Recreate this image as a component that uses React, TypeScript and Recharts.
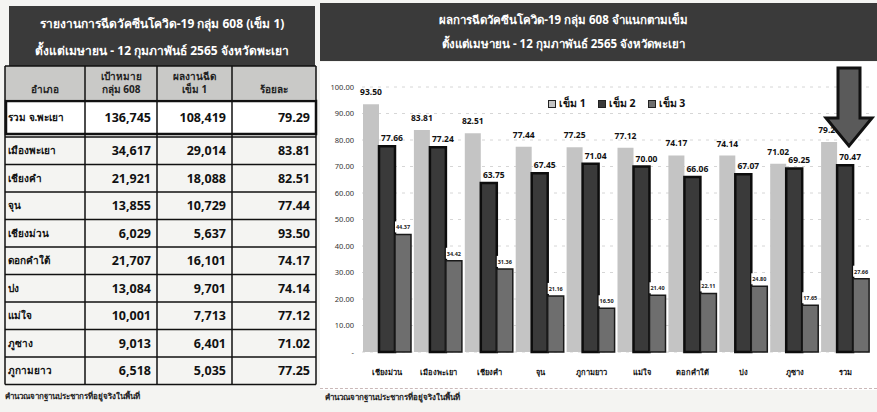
import React from 'react';
import { BarChart, Bar, XAxis, YAxis, CartesianGrid, LabelList } from 'recharts';

// table (left)
const districts = ['เมืองพะเยา', 'เชียงคำ', 'จุน', 'เชียงม่วน', 'ดอกคำใต้', 'ปง', 'แม่ใจ', 'ภูซาง', 'ภูกามยาว'];
const targets = [34617, 21921, 13855, 6029, 21707, 13084, 10001, 9013, 6518];
const dose1Counts = [29014, 18088, 10729, 5637, 16101, 9701, 7713, 6401, 5035];
const dose1Rates = [83.81, 82.51, 77.44, 93.5, 74.17, 74.14, 77.12, 71.02, 77.25];
const totalRow = { name: 'รวม จ.พะเยา', target: 136745, done: 108419, rate: 79.29 };

// chart (right)
const chartCategories = ['เชียงม่วน', 'เมืองพะเยา', 'เชียงคำ', 'จุน', 'ภูกามยาว', 'แม่ใจ', 'ดอกคำใต้', 'ปง', 'ภูซาง', 'รวม'];
const dose1 = [93.5, 83.81, 82.51, 77.44, 77.25, 77.12, 74.17, 74.14, 71.02, 79.29];
const dose2 = [77.66, 77.24, 63.75, 67.45, 71.04, 70.0, 66.06, 67.07, 69.25, 70.47];
const dose3 = [44.37, 34.42, 31.36, 21.16, 16.5, 21.4, 22.11, 24.8, 17.65, 27.66];
const yTicks = [0, 10, 20, 30, 40, 50, 60, 70, 80, 90, 100];
const seriesNames = ['เข็ม 1', 'เข็ม 2', 'เข็ม 3'];
const seriesColors = ['#c4c4c4', '#3a3a3a', '#6e6e6e'];

const data = chartCategories.map((c, i) => ({ name: c, d1: dose1[i], d2: dose2[i], d3: dose3[i] }));

const FONT = "'Noto Sans', 'DejaVu Sans', Tahoma, sans-serif";
const fmt = (n: number) => n.toLocaleString('en-US');

const col = [5, 85, 157, 232, 316];
const ROW_H = 27.5;
const ROW0 = 137;

const Dose3Label = (props: any) => {
  const { x, y, width, value } = props;
  const cx = x + width / 2;
  return (
    <g>
      <rect x={cx - 8} y={y - 13} width={16} height={11} fill="#fff" />
      <text x={cx} y={y - 5} textAnchor="middle" fontSize={5.5} fontWeight="bold" fill="#222">
        {Number(value).toFixed(2)}
      </text>
    </g>
  );
};

const Dose2Label = (props: any) => {
  const { x, y, width, value } = props;
  return (
    <text x={x + width / 2 + 5} y={y - 5} textAnchor="middle" fontSize={8.5} fontWeight="bold" fill="#111">
      {Number(value).toFixed(2)}
    </text>
  );
};

const cell = (left: number, right: number, top: number, h: number, text: string, align: 'left' | 'right', size: number) => (
  <div
    style={{
      position: 'absolute',
      left,
      top,
      width: right - left,
      height: h,
      display: 'flex',
      alignItems: 'center',
      justifyContent: align === 'left' ? 'flex-start' : 'flex-end',
      padding: '0 6px 0 3px',
      boxSizing: 'border-box',
      fontSize: size,
      fontWeight: 'bold',
      color: '#111',
    }}
  >
    {text}
  </div>
);

const App = () => {
  const tableBottom = ROW0 + ROW_H * districts.length;
  return (
    <div style={{ position: 'absolute', left: 0, top: 0, width: 877, height: 412, background: '#f4f4f2', fontFamily: FONT, overflow: 'hidden' }}>
      {/* left header */}
      <div style={{ position: 'absolute', left: 9, top: 6, width: 306, height: 60, background: '#3a3a3a', color: '#fff', fontWeight: 'bold', fontSize: 12, textAlign: 'center' }}>
        <div style={{ marginTop: 8 }}>รายงานการฉีดวัคซีนโควิด-19 กลุ่ม 608 (เข็ม 1)</div>
        <div style={{ marginTop: 8 }}>ตั้งแต่เมษายน - 12 กุมภาพันธ์ 2565 จังหวัดพะเยา</div>
      </div>

      {/* column header */}
      <div style={{ position: 'absolute', left: col[0], top: 66, width: col[4] - col[0], height: 33, background: '#c9c9c7' }} />
      {[
        ['', 'อำเภอ'],
        ['เป้าหมาย', 'กลุ่ม 608'],
        ['ผลงานฉีด', 'เข็ม 1'],
        ['', 'ร้อยละ'],
      ].map((h, i) => (
        <div key={i} style={{ position: 'absolute', left: col[i], top: 67, width: col[i + 1] - col[i], height: 32, textAlign: 'center', fontSize: 10, fontWeight: 'bold', lineHeight: '13px', color: '#222' }}>
          <div style={{ height: 13, marginTop: 3 }}>{h[0]}</div>
          <div>{h[1]}</div>
        </div>
      ))}

      {/* grid lines */}
      <svg width={877} height={412} style={{ position: 'absolute', left: 0, top: 0 }}>
        {col.map((x, i) => (
          <line key={'v' + i} x1={x} x2={x} y1={66} y2={tableBottom} stroke="#111" strokeWidth={1.5} />
        ))}
        <line x1={col[0]} x2={col[4]} y1={66} y2={66} stroke="#111" strokeWidth={1.5} />
        {districts.map((_, i) => (
          <line key={'h' + i} x1={col[0]} x2={col[4]} y1={ROW0 + ROW_H * (i + 1)} y2={ROW0 + ROW_H * (i + 1)} stroke="#111" strokeWidth={1.5} />
        ))}
        <rect x={col[0] + 1} y={101} width={col[4] - col[0] - 1} height={33} fill="#fff" stroke="#111" strokeWidth={2.5} />
        {[col[1], col[2], col[3]].map((x) => (
          <line key={'t' + x} x1={x} x2={x} y1={101} y2={134} stroke="#111" strokeWidth={1.5} />
        ))}
        <line x1={col[0]} x2={col[4]} y1={ROW0} y2={ROW0} stroke="#111" strokeWidth={1.5} />
      </svg>

      {/* total row */}
      {cell(col[0], col[1], 101, 33, totalRow.name, 'left', 10)}
      {cell(col[1], col[2], 101, 33, fmt(totalRow.target), 'right', 12.5)}
      {cell(col[2], col[3], 101, 33, fmt(totalRow.done), 'right', 12.5)}
      {cell(col[3], col[4], 101, 33, totalRow.rate.toFixed(2), 'right', 12.5)}

      {/* district rows */}
      {districts.map((d, i) => (
        <React.Fragment key={d}>
          {cell(col[0], col[1], ROW0 + ROW_H * i, ROW_H, d, 'left', 10)}
          {cell(col[1], col[2], ROW0 + ROW_H * i, ROW_H, fmt(targets[i]), 'right', 12.5)}
          {cell(col[2], col[3], ROW0 + ROW_H * i, ROW_H, fmt(dose1Counts[i]), 'right', 12.5)}
          {cell(col[3], col[4], ROW0 + ROW_H * i, ROW_H, dose1Rates[i].toFixed(2), 'right', 12.5)}
        </React.Fragment>
      ))}
      <div style={{ position: 'absolute', left: 5, top: 390, fontSize: 8, fontWeight: 'bold', color: '#222' }}>คำนวณจากฐานประชากรที่อยู่จริงในพื้นที่</div>

      {/* right header */}
      <div style={{ position: 'absolute', left: 320, top: 3, width: 557, height: 58, background: '#3a3a3a', color: '#fff', fontWeight: 'bold', fontSize: 11.5, textAlign: 'center' }}>
        <div style={{ marginTop: 8, paddingRight: 70 }}>ผลการฉีดวัคซีนโควิด-19 กลุ่ม 608 จำแนกตามเข็ม</div>
        <div style={{ marginTop: 6, paddingRight: 70 }}>ตั้งแต่เมษายน - 12 กุมภาพันธ์ 2565 จังหวัดพะเยา</div>
      </div>

      {/* chart */}
      <div style={{ position: 'absolute', left: 320, top: 62, background: '#fff' }}>
        <BarChart width={557} height={328} data={data} margin={{ top: 25, right: 6, left: 0, bottom: 8 }} barCategoryGap={1} barGap={0}>
          <CartesianGrid vertical={false} stroke="#d6d6d6" strokeDasharray="3 5" />
          <XAxis dataKey="name" tickLine={false} axisLine={false} height={30} tickMargin={12} interval={0} tick={{ fontSize: 7.5, fontWeight: 'bold', fill: '#111' }} />
          <YAxis
            domain={[0, 100]}
            ticks={yTicks}
            width={42}
            tickLine={false}
            axisLine={false}
            tickSize={0}
            tickMargin={8}
            tickFormatter={(v: number) => (v === 0 ? '-' : v.toFixed(2))}
            tick={{ fontSize: 7.5, fill: '#333' }}
          />
          <Bar dataKey="d1" name={seriesNames[0]} fill={seriesColors[0]} isAnimationActive={false}>
            <LabelList dataKey="d1" position="top" offset={9} fontSize={8.5} fontWeight="bold" fill="#111" formatter={(v: any) => Number(v).toFixed(2)} />
          </Bar>
          <Bar dataKey="d2" name={seriesNames[1]} fill={seriesColors[1]} stroke="#0d0d0d" strokeWidth={2.5} isAnimationActive={false}>
            <LabelList dataKey="d2" content={<Dose2Label />} />
          </Bar>
          <Bar dataKey="d3" name={seriesNames[2]} fill={seriesColors[2]} stroke="#1a1a1a" strokeWidth={1.5} isAnimationActive={false}>
            <LabelList dataKey="d3" content={<Dose3Label />} />
          </Bar>
        </BarChart>
      </div>

      {/* legend */}
      <div style={{ position: 'absolute', left: 548, top: 95, display: 'flex', gap: 12, fontSize: 10.5, fontWeight: 'bold', color: '#111' }}>
        {seriesNames.map((s, i) => (
          <span key={s} style={{ display: 'flex', alignItems: 'center', gap: 3 }}>
            <span style={{ width: 6, height: 6, background: seriesColors[i], border: '1px solid #222' }} />
            {s}
          </span>
        ))}
      </div>

      <div style={{ position: 'absolute', left: 320, top: 388, width: 557, borderTop: '1px dashed #c9b8b8' }} />
      <div style={{ position: 'absolute', left: 325, top: 391, fontSize: 8, fontWeight: 'bold', color: '#222' }}>คำนวณจากฐานประชากรที่อยู่จริงในพื้นที่</div>

      {/* arrow pointing at total */}
      <svg width={877} height={412} style={{ position: 'absolute', left: 0, top: 0, pointerEvents: 'none' }}>
        <polygon points="838,68 860,68 860,118 872,118 849,146 826,118 838,118" fill="#5a5a5a" stroke="#111" strokeWidth={3} strokeLinejoin="miter" />
      </svg>
    </div>
  );
};

export default App;
